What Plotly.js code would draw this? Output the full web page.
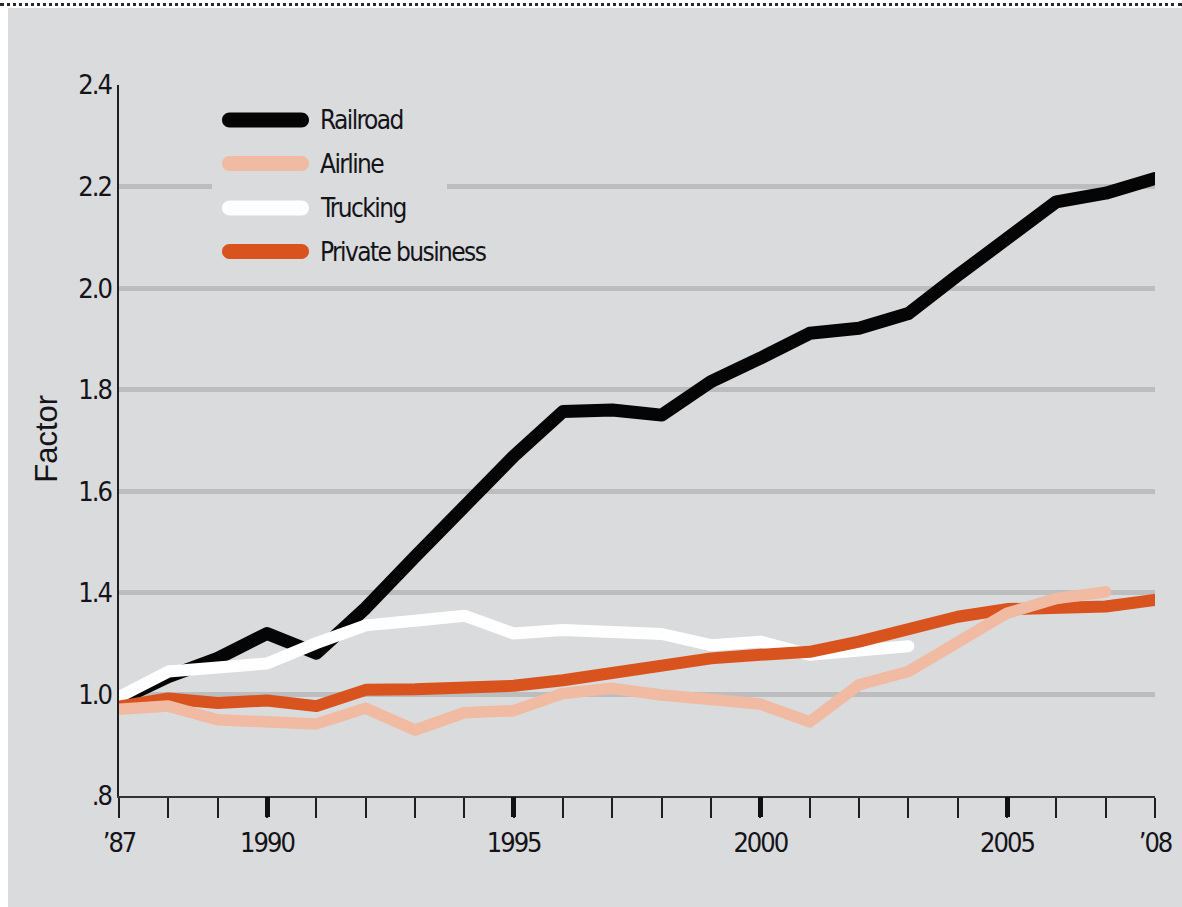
<!DOCTYPE html>
<html>
<head>
<meta charset="utf-8">
<script src="https://cdn.plot.ly/plotly-3.0.1.min.js"></script>
<style>
  html, body { margin: 0; padding: 0; background: #ffffff; }
  body { width: 1182px; height: 907px; position: relative; overflow: hidden; }
  #panel { position: absolute; left: 8px; top: 8px; right: 0; bottom: 0; background: #dadbdd; }
  #rule { position: absolute; left: 0; top: 3px; width: 1182px; border-top: 3px dotted #2a2a2a; }
  #chart { position: absolute; left: 0; top: 0; width: 1182px; height: 907px; }
  /* rounded ends and joins on the series lines */
  #chart .js-line { stroke-linecap: round; stroke-linejoin: round; }
  /* tighter set for the condensed labels (also applies when the text is measured) */
  .xtick text, .ytick text { letter-spacing: -2px; }
  text.annotation-text { letter-spacing: -1.6px; }
  #chart g.annotation[data-index="0"] text.annotation-text { letter-spacing: normal; }
</style>
</head>
<body>
<div id="panel"></div>
<div id="rule"></div>
<div id="chart"></div>
<script>
// Productivity factor by sector, 1987-2008
const years = [1987, 1988, 1989, 1990, 1991, 1992, 1993, 1994, 1995, 1996, 1997,
               1998, 1999, 2000, 2001, 2002, 2003, 2004, 2005, 2006, 2007, 2008];

const railroad = [1.189, 1.235, 1.271, 1.320, 1.281, 1.370, 1.471, 1.570, 1.669, 1.757, 1.760,
                  1.750, 1.816, 1.862, 1.911, 1.921, 1.950, 2.025, 2.100, 2.170, 2.187, 2.216];

const airline = [1.171, 1.177, 1.150, 1.146, 1.142, 1.173, 1.130, 1.164, 1.168, 1.202, 1.212,
                 1.199, 1.190, 1.181, 1.146, 1.219, 1.245, 1.304, 1.360, 1.389, 1.402];

const trucking = [1.195, 1.245, 1.253, 1.261, 1.301, 1.336, 1.345, 1.355, 1.320, 1.327, 1.323,
                  1.319, 1.297, 1.304, 1.278, 1.284, 1.295];

const privateBusiness = [1.176, 1.192, 1.183, 1.188, 1.177, 1.209, 1.210, 1.212, 1.217, 1.228, 1.242,
                         1.258, 1.271, 1.278, 1.284, 1.304, 1.328, 1.353, 1.368, 1.371, 1.373, 1.386];

const seriesNames = ['Railroad', 'Airline', 'Trucking', 'Private business'];

// x-axis labels
const xTickVals = [1987, 1990, 1995, 2000, 2005, 2008];
const xTickText = ['\u201987', '1990', '1995', '2000', '2005', '\u201908'];
const xMajorTicks = [1990, 1995, 2000, 2005];

// y-axis labels as printed on the scale
const yTickVals = [1.0, 1.2, 1.4, 1.6, 1.8, 2.0, 2.2, 2.4];
const yTickText = ['.8', '1.0', '1.4', '1.6', '1.8', '2.0', '2.2', '2.4'];

// styling
const COLORS = {
  'Railroad': '#050505',
  'Airline': '#f0baa3',
  'Trucking': '#ffffff',
  'Private business': '#d9531e'
};
const WIDTHS = { 'Railroad': 13, 'Airline': 11.5, 'Trucking': 12, 'Private business': 12 };

const NARROW = "'Liberation Sans Narrow', 'Arial Narrow', 'DejaVu Sans Condensed', sans-serif";
const INK = '#141418';
const GRID = '#bcbdbf';
const BG = '#dadbdd';

// page geometry (pixels)
const W = 1182, H = 907;
const M = { l: 119, r: 27, t: 85, b: 111 };
const plotW = W - M.l - M.r, plotH = H - M.t - M.b;
const px = x => (x - M.l) / plotW;       // page x -> paper x
const py = y => (H - M.b - y) / plotH;   // page y -> paper y

function lineTrace(name, values) {
  return {
    type: 'scatter', mode: 'lines', name: name,
    x: years.slice(0, values.length), y: values,
    line: { color: COLORS[name], width: WIDTHS[name], shape: 'linear' },
    hoverinfo: 'x+y+name', showlegend: false
  };
}

// drawing order: railroad at the back, airline on top
const traces = [
  lineTrace('Railroad', railroad),
  lineTrace('Trucking', trucking),
  lineTrace('Private business', privateBusiness),
  lineTrace('Airline', airline),
  // carries the heavier ticks of the overlay axis
  { type: 'scatter', mode: 'lines', x: [], y: [], xaxis: 'x2', showlegend: false, hoverinfo: 'skip' }
];

// legend: rounded keys on a panel that hides the gridline behind it
const keyLen = 87, keyR = 7.5;
const c = keyR * 0.5523;
const keyPath =
  `M${keyR},${keyR} L${keyLen - keyR},${keyR} ` +
  `C${keyLen - keyR + c},${keyR} ${keyLen},${c} ${keyLen},0 ` +
  `C${keyLen},${-c} ${keyLen - keyR + c},${-keyR} ${keyLen - keyR},${-keyR} ` +
  `L${keyR},${-keyR} ` +
  `C${keyR - c},${-keyR} 0,${-c} 0,0 ` +
  `C0,${c} ${keyR - c},${keyR} ${keyR},${keyR} Z`;
const legendRows = [120, 163.5, 208, 251.5];
const legendKeyX = 222, legendTextX = 318;

const shapes = [{
  type: 'rect', xref: 'paper', yref: 'paper', layer: 'above',
  x0: px(212), x1: px(447), y0: py(272), y1: py(96),
  fillcolor: BG, line: { width: 0 }
}];

// axis caption first, then the legend labels
const annotations = [{
  xref: 'paper', yref: 'paper', x: px(46), y: py(438),
  xanchor: 'center', yanchor: 'middle', showarrow: false, textangle: -90,
  text: 'Factor', font: { family: "'Liberation Sans', Arial, sans-serif", size: 31, color: INK }
}];

seriesNames.forEach((name, i) => {
  shapes.push({
    type: 'path', layer: 'above',
    xref: 'paper', yref: 'paper',
    xsizemode: 'pixel', ysizemode: 'pixel',
    xanchor: px(legendKeyX), yanchor: py(legendRows[i]),
    path: keyPath,
    fillcolor: COLORS[name], line: { width: 0 }
  });
  annotations.push({
    xref: 'paper', yref: 'paper', x: px(legendTextX), y: py(legendRows[i]),
    xanchor: 'left', yanchor: 'middle', showarrow: false,
    text: name, font: { family: NARROW, size: 26, color: INK }
  });
});

const layout = {
  width: W, height: H,
  margin: M,
  paper_bgcolor: 'rgba(0,0,0,0)',
  plot_bgcolor: 'rgba(0,0,0,0)',
  showlegend: false,
  hovermode: 'closest',
  xaxis: {
    range: [1987, 2008], fixedrange: true,
    tickmode: 'array', tickvals: xTickVals, ticktext: xTickText,
    ticks: 'outside', ticklen: 20, tickwidth: 1.5, tickcolor: '#1e1e1e',
    minor: { tickmode: 'linear', tick0: 1987, dtick: 1, ticks: 'outside',
             ticklen: 20, tickwidth: 1.5, tickcolor: '#1e1e1e', showgrid: false },
    showline: true, linecolor: '#333333', linewidth: 1.5,
    showgrid: false, zeroline: false,
    tickfont: { family: NARROW, size: 27, color: INK },
    ticklabelstandoff: 2
  },
  xaxis2: {
    overlaying: 'x', anchor: 'y', side: 'bottom',
    range: [1987, 2008], fixedrange: true,
    tickmode: 'array', tickvals: xMajorTicks,
    ticks: 'outside', ticklen: 20, tickwidth: 5, tickcolor: '#111111',
    showticklabels: false, showline: false, showgrid: false, zeroline: false
  },
  yaxis: {
    range: [1.0, 2.4], fixedrange: true,
    tickmode: 'array', tickvals: yTickVals, ticktext: yTickText,
    ticks: '', showline: true, linecolor: '#1e1e1e', linewidth: 1.5,
    showgrid: true, gridcolor: GRID, gridwidth: 4.5, zeroline: false,
    tickfont: { family: NARROW, size: 27, color: INK },
    ticklabelstandoff: 1
  },
  shapes: shapes,
  annotations: annotations
};

Plotly.newPlot('chart', traces, layout, { displayModeBar: false });
</script>
</body>
</html>
